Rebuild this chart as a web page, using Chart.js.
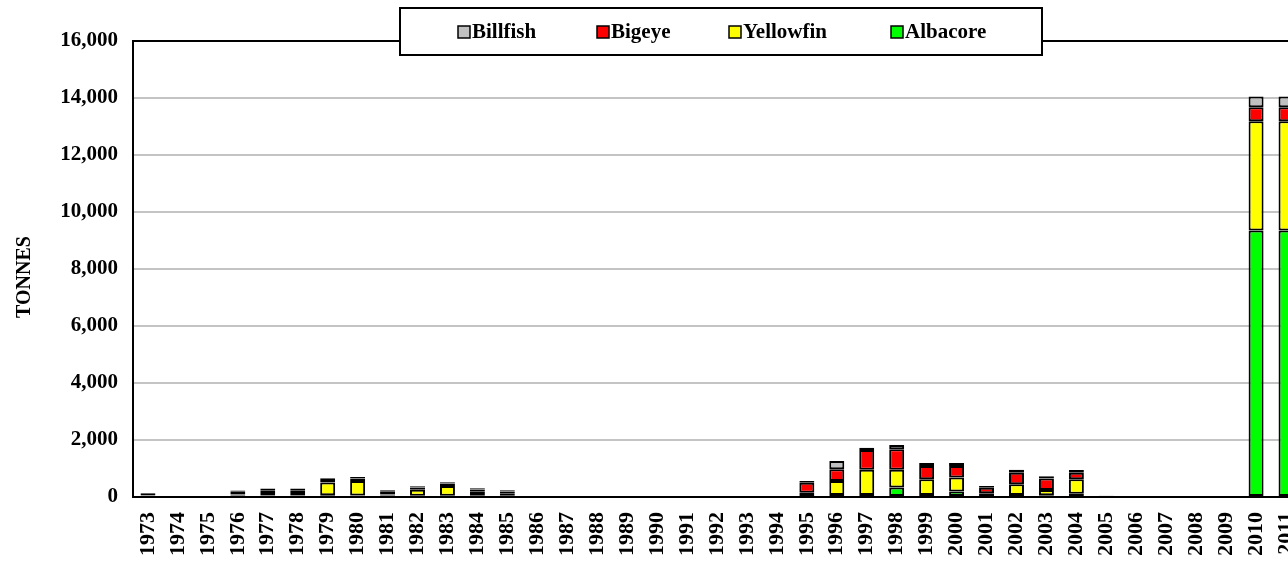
<!DOCTYPE html>
<html>
<head>
<meta charset="utf-8">
<script src="https://cdn.jsdelivr.net/npm/chart.js@4/dist/chart.umd.min.js"></script>
<style>
  html, body { margin: 0; padding: 0; background: #fff; overflow: hidden; }
  #wrap { position: absolute; left: 0; top: 0; width: 1320px; height: 563px; }
</style>
</head>
<body>
<div id="wrap"><canvas id="catchChart"></canvas></div>
<script>
const years = ['1973','1974','1975','1976','1977','1978','1979','1980','1981','1982',
  '1983','1984','1985','1986','1987','1988','1989','1990','1991','1992','1993','1994',
  '1995','1996','1997','1998','1999','2000','2001','2002','2003','2004','2005','2006',
  '2007','2008','2009','2010','2011'];

// tonnes per year, stacked bottom to top
const albacore = [40,0,0,50,50,50,60,50,50,40,40,40,40,0,0,0,0,0,0,0,0,0,
  30,70,70,330,70,190,30,70,60,115,40,0,0,0,0,9350,9350];
const yellowfin = [20,0,0,40,90,90,445,510,40,215,345,145,75,0,0,0,0,0,0,0,0,0,
  120,490,890,630,550,490,105,375,185,505,0,0,0,0,0,3835,3835];
const bigeye = [50,0,0,90,100,100,90,90,90,80,90,80,80,0,0,0,0,0,0,0,0,0,
  350,410,690,715,470,410,190,410,400,230,0,0,0,0,0,490,490];
const billfish = [30,0,0,50,60,60,60,50,55,40,40,40,40,0,0,0,0,0,0,0,0,0,
  60,290,80,150,100,100,60,100,80,100,0,0,0,0,0,375,375];

const yTicks = [0, 2000, 4000, 6000, 8000, 10000, 12000, 14000, 16000];
const yTitle = 'TONNES';

const serif = '"Liberation Serif", "Times New Roman", serif';

// legend box drawn over the top edge of the plot, like the original
const boxLegend = {
  id: 'boxLegend',
  afterDraw(chart) {
    const c = chart.ctx;
    const items = chart.data.datasets.slice().reverse();
    const xs = [458, 597, 729, 891];
    c.save();
    c.fillStyle = '#fff';
    c.fillRect(400, 8, 642, 47);
    c.lineWidth = 2;
    c.strokeStyle = '#000';
    c.strokeRect(400, 8, 642, 47);
    c.font = 'bold 21px ' + serif;
    c.textBaseline = 'middle';
    items.forEach((ds, i) => {
      const x = xs[i], y = 32;
      c.fillStyle = ds.backgroundColor;
      c.fillRect(x, y - 6, 12, 12);
      c.lineWidth = 1.5;
      c.strokeRect(x, y - 6, 12, 12);
      c.fillStyle = '#000';
      c.fillText(ds.label, x + 14, y + 1);
    });
    // axis title sits a little below the plot's middle in the original
    c.translate(25, 277);
    c.rotate(-Math.PI / 2);
    c.textAlign = 'center';
    c.font = 'bold 20px ' + serif;
    c.fillText(yTitle, 0, 0);
    c.restore();
  }
};

const mk = (label, data, color) => ({
  label, data,
  backgroundColor: color,
  borderColor: '#000',
  borderWidth: 2,
  borderSkipped: false,
  barPercentage: 0.5,
  categoryPercentage: 1.0
});

new Chart(document.getElementById('catchChart'), {
  type: 'bar',
  data: {
    labels: years,
    datasets: [
      mk('Albacore', albacore, '#00ff00'),
      mk('Yellowfin', yellowfin, '#ffff00'),
      mk('Bigeye', bigeye, '#ff0000'),
      mk('Billfish', billfish, '#c0c0c0')
    ]
  },
  options: {
    responsive: true,
    maintainAspectRatio: false,
    animation: false,
    layout: { padding: { top: 41, right: 19, left: 0, bottom: 0 } },
    plugins: { legend: { display: false }, tooltip: { enabled: false } },
    scales: {
      x: {
        stacked: true,
        grid: { display: false },
        border: { color: '#000', width: 2 },
        ticks: {
          autoSkip: false, minRotation: 90, maxRotation: 90, padding: 7,
          color: '#000', font: { family: serif, size: 22, weight: 'bold' }
        },
        afterFit: s => { s.height = 66; }
      },
      y: {
        stacked: true,
        min: 0, max: 16000,
        afterBuildTicks: s => { s.ticks = yTicks.map(v => ({ value: v })); },
        grid: {
          drawTicks: false,
          color: ctx => ctx.tick && ctx.tick.value === 16000 ? '#000' : '#c4c4c4',
          lineWidth: 2
        },
        border: { color: '#000', width: 2 },
        ticks: {
          padding: 15, color: '#000',
          font: { family: serif, size: 21, weight: 'bold' },
          callback: v => v.toLocaleString('en-US')
        },
        afterFit: s => { s.width = 133; }
      }
    }
  },
  plugins: [boxLegend]
});
</script>
</body>
</html>
